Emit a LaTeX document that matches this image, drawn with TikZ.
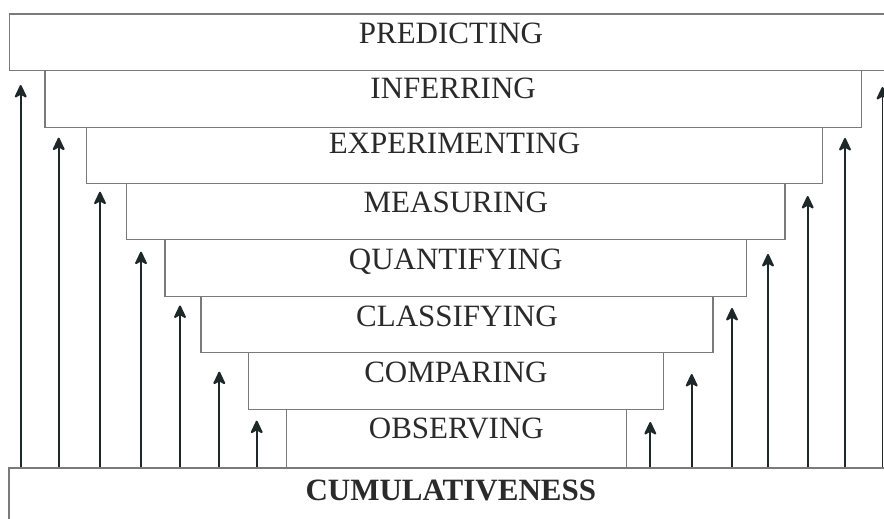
\documentclass[tikz,border=0pt]{standalone}
\usepackage{fontspec}
\setmainfont{Liberation Serif}
\usetikzlibrary{arrows.meta}
\definecolor{boxline}{HTML}{7A7A7A}
\definecolor{arrline}{HTML}{1E2828}
\definecolor{txt}{HTML}{2A2A2A}
\tikzset{
  stepbox/.style={draw=boxline, line width=1.3pt, fill=white, rectangle, inner sep=0pt},
  lbl/.style={anchor=base, inner sep=0pt, text=txt, font=\fontsize{31}{36}\selectfont},
  upar/.style={draw=arrline, line width=1.9pt, -{Stealth[length=15pt,width=14pt,inset=4pt,round]}}
}
\newcommand{\stepnode}[5]{%
  \node[stepbox, anchor=north west, minimum width=#4pt-#2pt, minimum height=#5pt-#3pt] (#1) at (#2,#3) {};
}
\begin{document}
\begin{tikzpicture}[x=1pt,y=-1pt]
\useasboundingbox (0,0) rectangle (884,519);
\clip (0,0) rectangle (884,519);
\fill[white] (0,0) rectangle (884,519);
% boxes
\stepnode{pred}{8.7}{13.3}{892}{70}
\stepnode{inf}{44.3}{70}{860.7}{126.5}
\stepnode{exp}{86}{126.5}{821.7}{183}
\stepnode{meas}{126}{183}{784.3}{239}
\stepnode{quant}{164.3}{239}{745.7}{296}
\stepnode{class}{200.3}{296}{712.3}{352}
\stepnode{comp}{247.7}{352}{662.7}{408.5}
\stepnode{obs}{285.7}{408.5}{625.7}{467.3}
\stepnode{cum}{8.3}{467.3}{892}{540}
% labels
\node[lbl] (tpred) at ([yshift=-30pt]pred.north) {PREDICTING};
\node[lbl] (tinf) at ([yshift=-29pt]inf.north) {INFERRING};
\node[lbl] (texp) at ([yshift=-27pt]exp.north) {EXPERIMENTING};
\node[lbl] (tmeas) at ([yshift=-29pt]meas.north) {MEASURING};
\node[lbl] (tquant) at ([yshift=-30pt]quant.north) {QUANTIFYING};
\node[lbl] (tclass) at ([yshift=-30pt]class.north) {CLASSIFYING};
\node[lbl] (tcomp) at ([yshift=-30pt]comp.north) {COMPARING};
\node[lbl] (tobs) at ([yshift=-30pt]obs.north) {OBSERVING};
\node[lbl, font=\fontsize{31}{36}\selectfont\bfseries] (tcum) at ([yshift=-33pt]cum.north) {CUMULATIVENESS};
% arrow tips
\coordinate (l1) at (20.7,85);
\coordinate (l2) at (58.7,137.7);
\coordinate (l3) at (100,191.7);
\coordinate (l4) at (141,251.7);
\coordinate (l5) at (180,305.5);
\coordinate (l6) at (219.3,371.7);
\coordinate (l7) at (256.7,420.7);
\coordinate (r1) at (650.3,422);
\coordinate (r2) at (691.7,374);
\coordinate (r3) at (732,308);
\coordinate (r4) at (768,254);
\coordinate (r5) at (807.7,196);
\coordinate (r6) at (845,138);
\coordinate (r7) at (882.5,87);
\foreach \t in {l1,l2,l3,l4,l5,l6,l7,r1,r2,r3,r4,r5,r6,r7}
  \draw[upar] (\t |- cum.north) -- (\t);
\end{tikzpicture}
\end{document}
